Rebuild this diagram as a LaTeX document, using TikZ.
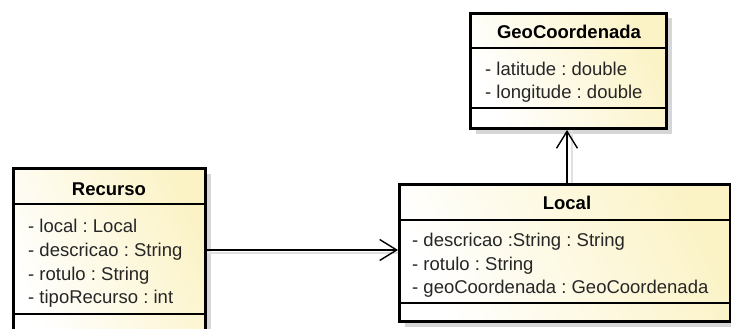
\documentclass[tikz,border=0pt]{standalone}
\usepackage{fontspec}
\setmainfont{Liberation Sans}
\frenchspacing
\usetikzlibrary{arrows.meta,shadows}
\definecolor{cream}{HTML}{FBF3C6}
\definecolor{shadowgray}{HTML}{D6D6D6}
\tikzset{
  classbox/.style={draw=black, line width=3pt, rectangle, inner sep=0pt, anchor=north west,
    left color=white, right color=cream, shading angle=115,
    drop shadow={shadow xshift=5pt, shadow yshift=-5pt, fill=shadowgray, opacity=1}},
  sepline/.style={line width=1.3pt, black},
  title/.style={anchor=base, inner sep=0pt, font=\bfseries\fontsize{18.5}{23}\selectfont},
  attr/.style={anchor=base west, inner sep=0pt, text=black!85, font=\fontsize{18.5}{23}\selectfont},
  assoc/.style={line width=1.4pt, black, -{Straight Barb[length=17pt, width=21pt, line width=1.4pt]}},
  ghost/.style={line width=1.2pt, black!12}
}
\begin{document}
\begin{tikzpicture}[x=1pt,y=-1pt]
\clip (0,0) rectangle (731,329);
\fill[white] (0,0) rectangle (731,329);
% boxes
\node[classbox, minimum width=192pt, minimum height=180pt] (recurso) at (12,167) {};
\node[classbox, minimum width=331pt, minimum height=137pt] (local) at (398,183) {};
\node[classbox, minimum width=196pt, minimum height=115pt] (geo) at (469,12) {};
% separators
\draw[sepline] (recurso.west |- 0,204) -- (recurso.east |- 0,204);
\draw[sepline] (recurso.west |- 0,314) -- (recurso.east |- 0,314);
\draw[sepline] (local.west |- 0,220) -- (local.east |- 0,220);
\draw[sepline] (local.west |- 0,303) -- (local.east |- 0,303);
\draw[sepline] (geo.west |- 0,48) -- (geo.east |- 0,48);
\draw[sepline] (geo.west |- 0,108) -- (geo.east |- 0,108);
% titles
\node[title] (tr) at (109,195.7) {Recurso};
\node[title] (tl) at (567,209.3) {Local};
\node[title] (tg) at (569,39) {GeoCoordenada};
% attributes
\node[attr] (r1) at (28,232.7) {- local : Local};
\node[attr] (r2) at (28,256.4) {- descricao : String};
\node[attr] (r3) at (28,280.1) {- rotulo : String};
\node[attr] (r4) at (28,303.8) {- tipoRecurso : int};
\node[attr] (l1) at (412,246.7) {- descricao :String : String};
\node[attr] (l2) at (412,270.2) {- rotulo : String};
\node[attr] (l3) at (412,293.7) {- geoCoordenada : GeoCoordenada};
\node[attr] (g1) at (485,75) {- latitude : double};
\node[attr] (g2) at (485,98.5) {- longitude : double};
% connectors
\coordinate (ra) at (recurso.east |- 0,250);
\coordinate (la) at (local.west |- 0,250);
\coordinate (lg) at (geo.south -| 567,0);
\coordinate (gl) at (local.north -| 567,0);
\draw[ghost] ([yshift=-3pt]ra) -- ([yshift=-3pt]la);
\draw[ghost] ([xshift=5pt]gl) -- ([xshift=5pt]lg);
\draw[assoc] (ra) -- (la);
\draw[assoc] (gl) -- (lg);
\end{tikzpicture}
\end{document}
